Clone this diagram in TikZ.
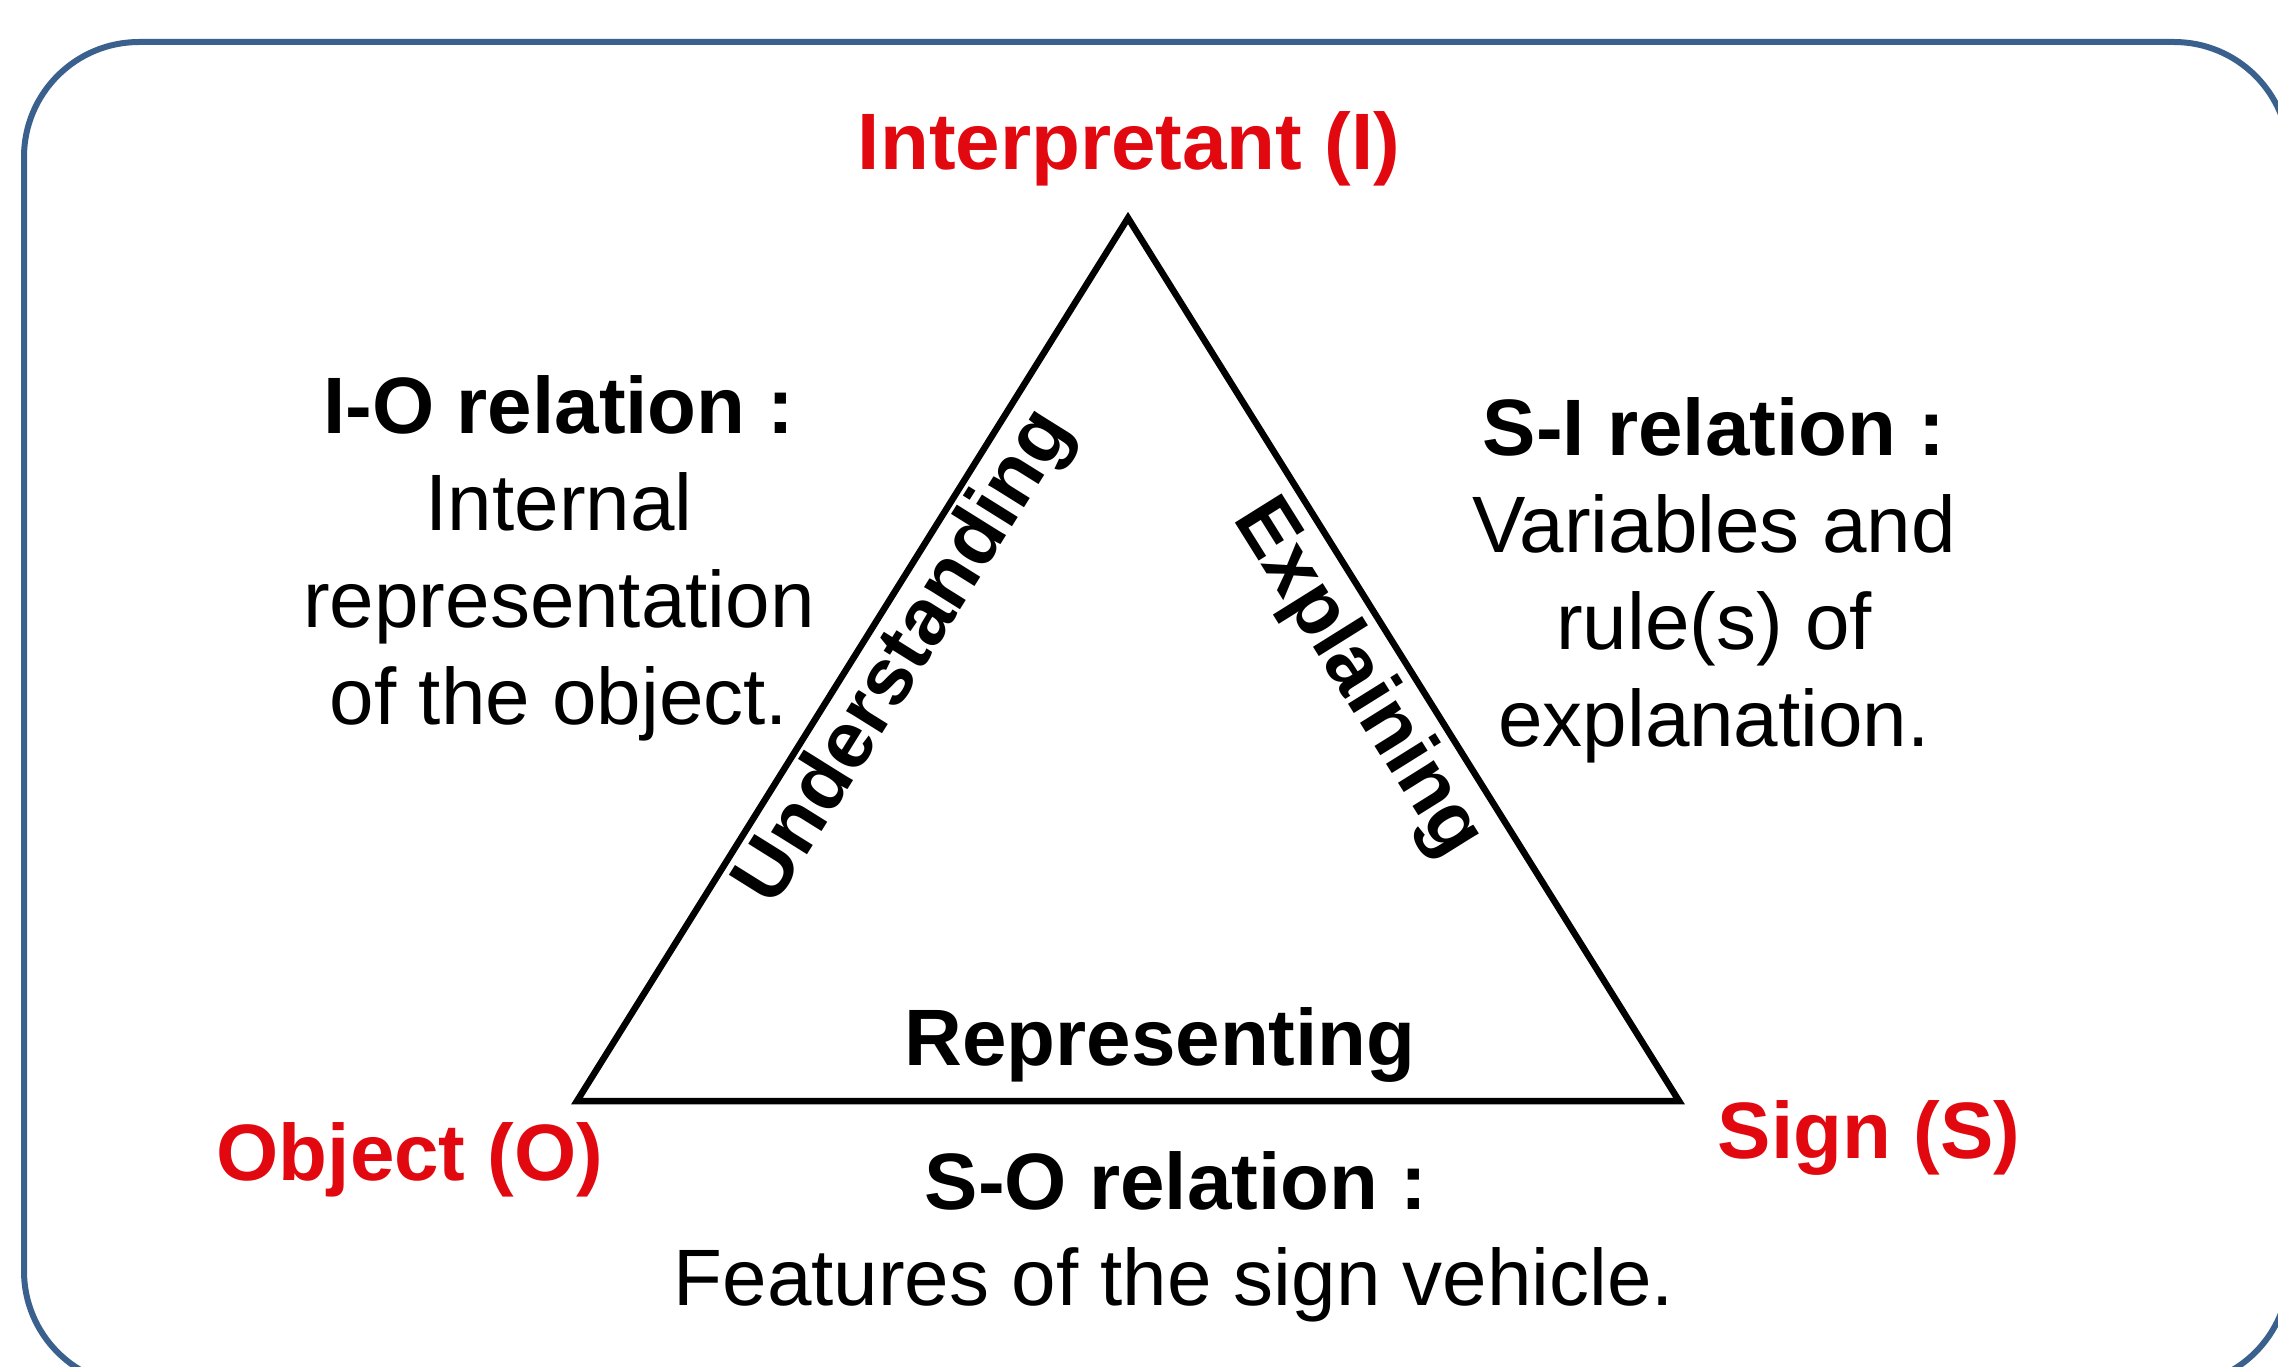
\documentclass[tikz,border=0pt]{standalone}
\usepackage{fontspec}
\setmainfont{Liberation Sans}
\definecolor{framec}{RGB}{58,96,142}
\definecolor{labred}{RGB}{226,8,16}
\begin{document}
\begin{tikzpicture}[x=1bp,y=-1bp,
  basefont/.style={font=\fontsize{80bp}{97bp}\selectfont, inner sep=0pt, anchor=base},
  vertexlab/.style={basefont, font=\fontsize{80bp}{97bp}\selectfont\bfseries, text=labred},
  headlab/.style={basefont, font=\fontsize{80bp}{97bp}\selectfont\bfseries},
  bodylab/.style={basefont},
  sidelab/.style={font=\fontsize{80bp}{97bp}\selectfont\bfseries, inner sep=0pt, anchor=center},
  frameline/.style={draw=framec, line width=6bp, rounded corners=115bp},
  triline/.style={draw=black, line width=6.5bp, line join=miter}]
\useasboundingbox (0,0) rectangle (2278,1367);
\fill[white] (0,0) rectangle (2278,1367);
\draw[frameline] (24,42) rectangle (2289,1386);
% triangle vertices
\coordinate (O) at (577,1101);
\coordinate (S) at (1679,1101);
\coordinate (I) at (1128,218);
\draw[triline] (O) -- (I) -- (S) -- cycle;
% vertex labels
\node[vertexlab] (interp) at (1129,170) {Interpretant (I)};
\node[vertexlab] (object) at (410,1180) {Object (O)};
\node[vertexlab] (sign) at (1869,1158) {Sign (S)};
% side labels
\node[sidelab, rotate=58] (underst) at (906,658) {Understanding};
\node[sidelab, rotate=-58] (explain) at (1357,679) {Explaining};
\node[headlab] (repr) at (1160,1065) {Representing};
% I-O relation
\node[headlab] (io1) at (559,433) {I-O relation :};
\node[bodylab] (io2) at (559,530) {Internal};
\node[bodylab] (io3) at (559,627) {representation};
\node[bodylab] (io4) at (559,724) {of the object.};
% S-I relation
\node[headlab] (si1) at (1714,455) {S-I relation :};
\node[bodylab] (si2) at (1714,552) {Variables and};
\node[bodylab] (si3) at (1714,649) {rule(s) of};
\node[bodylab] (si4) at (1714,746) {explanation.};
% S-O relation
\node[headlab] (so1) at (1176,1209) {S-O relation :};
\node[bodylab] (so2) at (1174,1305) {Features of the sign vehicle.};
\end{tikzpicture}
\end{document}
